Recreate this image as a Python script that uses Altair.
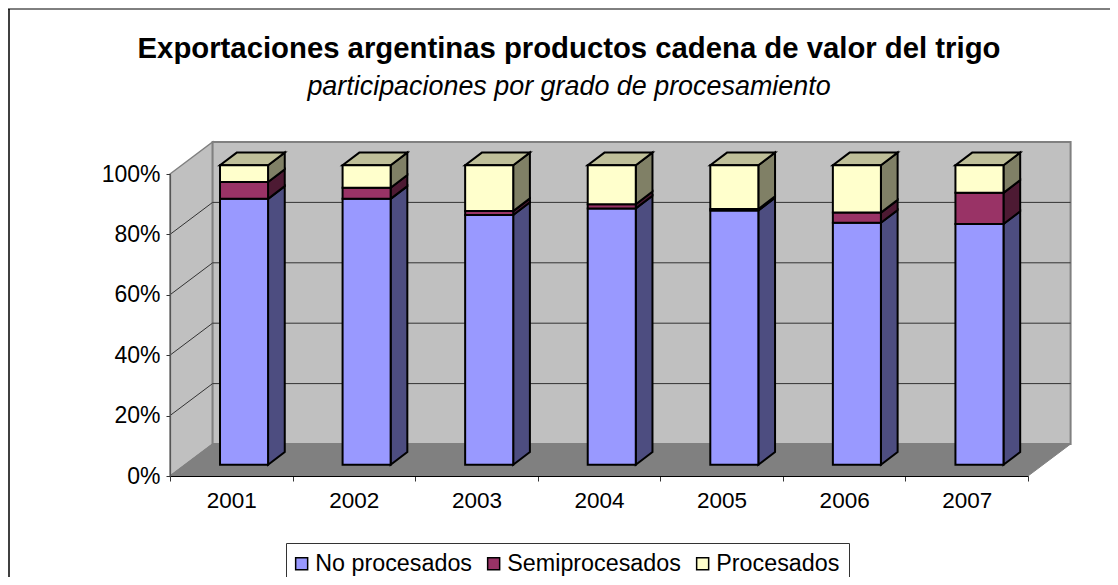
import altair as alt
import pandas as pd

years = ["2001", "2002", "2003", "2004", "2005", "2006", "2007"]
series = ["No procesados", "Semiprocesados", "Procesados"]
no_procesados = [0.888, 0.888, 0.834, 0.856, 0.849, 0.808, 0.804]
semiprocesados = [0.056, 0.037, 0.013, 0.014, 0.005, 0.034, 0.104]
procesados = [0.056, 0.075, 0.153, 0.130, 0.146, 0.158, 0.092]
y_ticks = [0, 0.2, 0.4, 0.6, 0.8, 1.0]

front_colors = ["#9999FF", "#993366", "#FFFFCC"]
face_names = ["side0", "side1", "side2", "top"]
face_colors = ["#4D4D80", "#4D1A33", "#808066", "#BFBF99"]

FONT = "Liberation Sans"
WIDTH, HEIGHT = 858, 302
WALL_DX, WALL_DY = 42.6 / 122.57, 32 / 302
BAR_LEFT, BAR_W = 0.408, 0.392
BAR_BASE, BAR_SPAN = 0.0374, 0.9914
BAR_DX, BAR_DY = 16.7 / 122.57, 12.7 / 302

fronts, sides, tops = [], [], []
for i, year in enumerate(years):
    left = i + BAR_LEFT
    right = left + BAR_W
    low = 0.0
    for k, (name, vals) in enumerate(zip(series, [no_procesados, semiprocesados, procesados])):
        high = low + vals[i]
        y0 = BAR_BASE + low * BAR_SPAN
        y1 = BAR_BASE + high * BAR_SPAN
        fronts.append({"x": left, "x2": right, "y": y0, "y2": y1, "serie": name})
        fid = f"{year}-{k}"
        sides.append({"id": fid, "face": f"side{k}", "x": right, "y": y0, "y2": y1})
        sides.append({"id": fid, "face": f"side{k}", "x": right + BAR_DX, "y": y0 + BAR_DY, "y2": y1 + BAR_DY})
        low = high
    top = BAR_BASE + low * BAR_SPAN
    tops.append({"id": year, "face": "top", "y": top, "x": left, "x2": right})
    tops.append({"id": year, "face": "top", "y": top + BAR_DY, "x": left + BAR_DX, "x2": right + BAR_DX})

fronts, sides, tops = map(pd.DataFrame, (fronts, sides, tops))

xq = alt.Scale(type="linear", domain=[0, len(years)], range=[0, WIDTH], nice=False, zero=False)
yq = alt.Scale(type="linear", domain=[0, 1], range=[HEIGHT, 0], nice=False, zero=False)
y_axis = alt.Axis(values=y_ticks, format=".0%", title=None, grid=False, domainColor="#555555",
                  tickColor="#333333", tickSize=4, labelFont=FONT, labelFontSize=23, labelColor="black",
                  labelPadding=6, zindex=1, domainWidth=1.2)


def X(f="x"):
    return alt.X(f + ":Q", scale=xq, axis=None, title=None)


def X2(f="x2"):
    return alt.X2(f)


def Y(f="y"):
    return alt.Y(f + ":Q", scale=yq, axis=y_axis, title=None)


n = len(years)
wall_back = alt.Chart(pd.DataFrame([{"x": WALL_DX, "x2": n + WALL_DX, "y": WALL_DY, "y2": 1 + WALL_DY}])).mark_rect(
    fill="#C0C0C0", stroke="#808080", strokeWidth=2
).encode(x=X(), x2=X2(), y=Y(), y2=alt.Y2("y2"))

wall_side = alt.Chart(pd.DataFrame([
    {"x": 0, "y": 0, "y2": 1},
    {"x": WALL_DX, "y": WALL_DY, "y2": 1 + WALL_DY},
])).mark_area(fill="#C0C0C0", stroke="#808080", strokeWidth=1.5).encode(x=X(), y=Y(), y2=alt.Y2("y2"))

floor = alt.Chart(pd.DataFrame([
    {"y": 0, "x": 0, "x2": n},
    {"y": WALL_DY, "x": WALL_DX, "x2": n + WALL_DX},
])).mark_area(orient="horizontal", fill="#808080", stroke="#808080", strokeWidth=1).encode(
    y=Y(), x=X(), x2=X2()
)

grid_ticks = y_ticks[1:-1]
grid_back = alt.Chart(pd.DataFrame([
    {"y": v + WALL_DY, "x": WALL_DX, "x2": n + WALL_DX} for v in grid_ticks
])).mark_rule(color="#333333", strokeWidth=1).encode(x=X(), x2=X2(), y=Y())

grid_side = alt.Chart(pd.DataFrame(
    [{"id": v, "x": 0, "y": v} for v in grid_ticks] + [{"id": v, "x": WALL_DX, "y": v + WALL_DY} for v in grid_ticks]
)).mark_line(color="#333333", strokeWidth=1).encode(x=X(), y=Y(), detail="id:N")

face_fill = alt.Scale(domain=face_names, range=face_colors)
bar_sides = alt.Chart(sides).mark_area(stroke="black", strokeWidth=2).encode(
    x=X(), y=Y(), y2=alt.Y2("y2"), detail="id:N", fill=alt.Fill("face:N", scale=face_fill, legend=None)
)
bar_tops = alt.Chart(tops).mark_area(orient="horizontal", stroke="black", strokeWidth=2).encode(
    y=Y(), x=X(), x2=X2(), detail="id:N", fill=alt.Fill("face:N", scale=face_fill, legend=None)
)
bar_fronts = alt.Chart(fronts).mark_rect(stroke="black", strokeWidth=2).encode(
    x=X(), x2=X2(), y=Y(), y2=alt.Y2("y2"),
    color=alt.Color(
        "serie:N",
        scale=alt.Scale(domain=series, range=front_colors),
        legend=alt.Legend(
            title=None, orient="none", legendX=116, legendY=369, direction="horizontal", columns=3,
            labelFont=FONT, labelFontSize=23.3, labelColor="black", labelOffset=2, columnPadding=12,
            labelLimit=300, symbolOffset=-5,
            symbolType="square", symbolSize=144, symbolStrokeColor="black", symbolStrokeWidth=1.5,
            symbolOpacity=1, fillColor="white", strokeColor="#333333", padding=9,
        ),
    ),
)

x_axis_layer = alt.Chart(pd.DataFrame({"year": years})).mark_bar(opacity=0).encode(
    x=alt.X(
        "year:N", sort=years, title=None,
        scale=alt.Scale(type="band", domain=years, range=[0, WIDTH], paddingInner=0, paddingOuter=0),
        axis=alt.Axis(
            tickBand="extent", labelAngle=0, domainColor="black", domainWidth=1.2, tickColor="#333333",
            tickSize=5, labelFont=FONT, labelFontSize=22.5, labelColor="black", labelPadding=8, zindex=1,
            grid=False,
        ),
    )
)

frame_left = alt.Chart(pd.DataFrame({"a": [0]})).mark_rule(color="#404040", strokeWidth=2).encode(
    x=alt.value(-161), y=alt.value(-165), y2=alt.value(403)
)
frame_top = alt.Chart(pd.DataFrame({"a": [0]})).mark_rule(color="black", strokeWidth=1).encode(
    y=alt.value(-165), x=alt.value(-162), x2=alt.value(940)
)

chart = alt.layer(
    frame_left, frame_top, wall_side, wall_back, floor, grid_back, grid_side,
    bar_sides, bar_tops, bar_fronts, x_axis_layer,
).resolve_scale(x="independent").properties(
    width=WIDTH, height=HEIGHT,
    autosize=alt.AutoSizeParams(type="none"),
    padding={"left": 162, "top": 166, "right": 82, "bottom": 101},
    background="white",
    title=alt.TitleParams(
        text="Exportaciones argentinas productos cadena de valor del trigo",
        subtitle="participaciones por grado de procesamiento",
        font=FONT, fontSize=29.3, fontWeight="bold", color="black",
        subtitleFont=FONT, subtitleFontSize=26.9, subtitleFontStyle="italic", subtitleColor="black",
        subtitlePadding=10, anchor="middle", dx=-30, offset=-92,
    ),
).configure_view(stroke=None)

chart.save("out.html", embed_options={"renderer": "svg", "actions": False})
